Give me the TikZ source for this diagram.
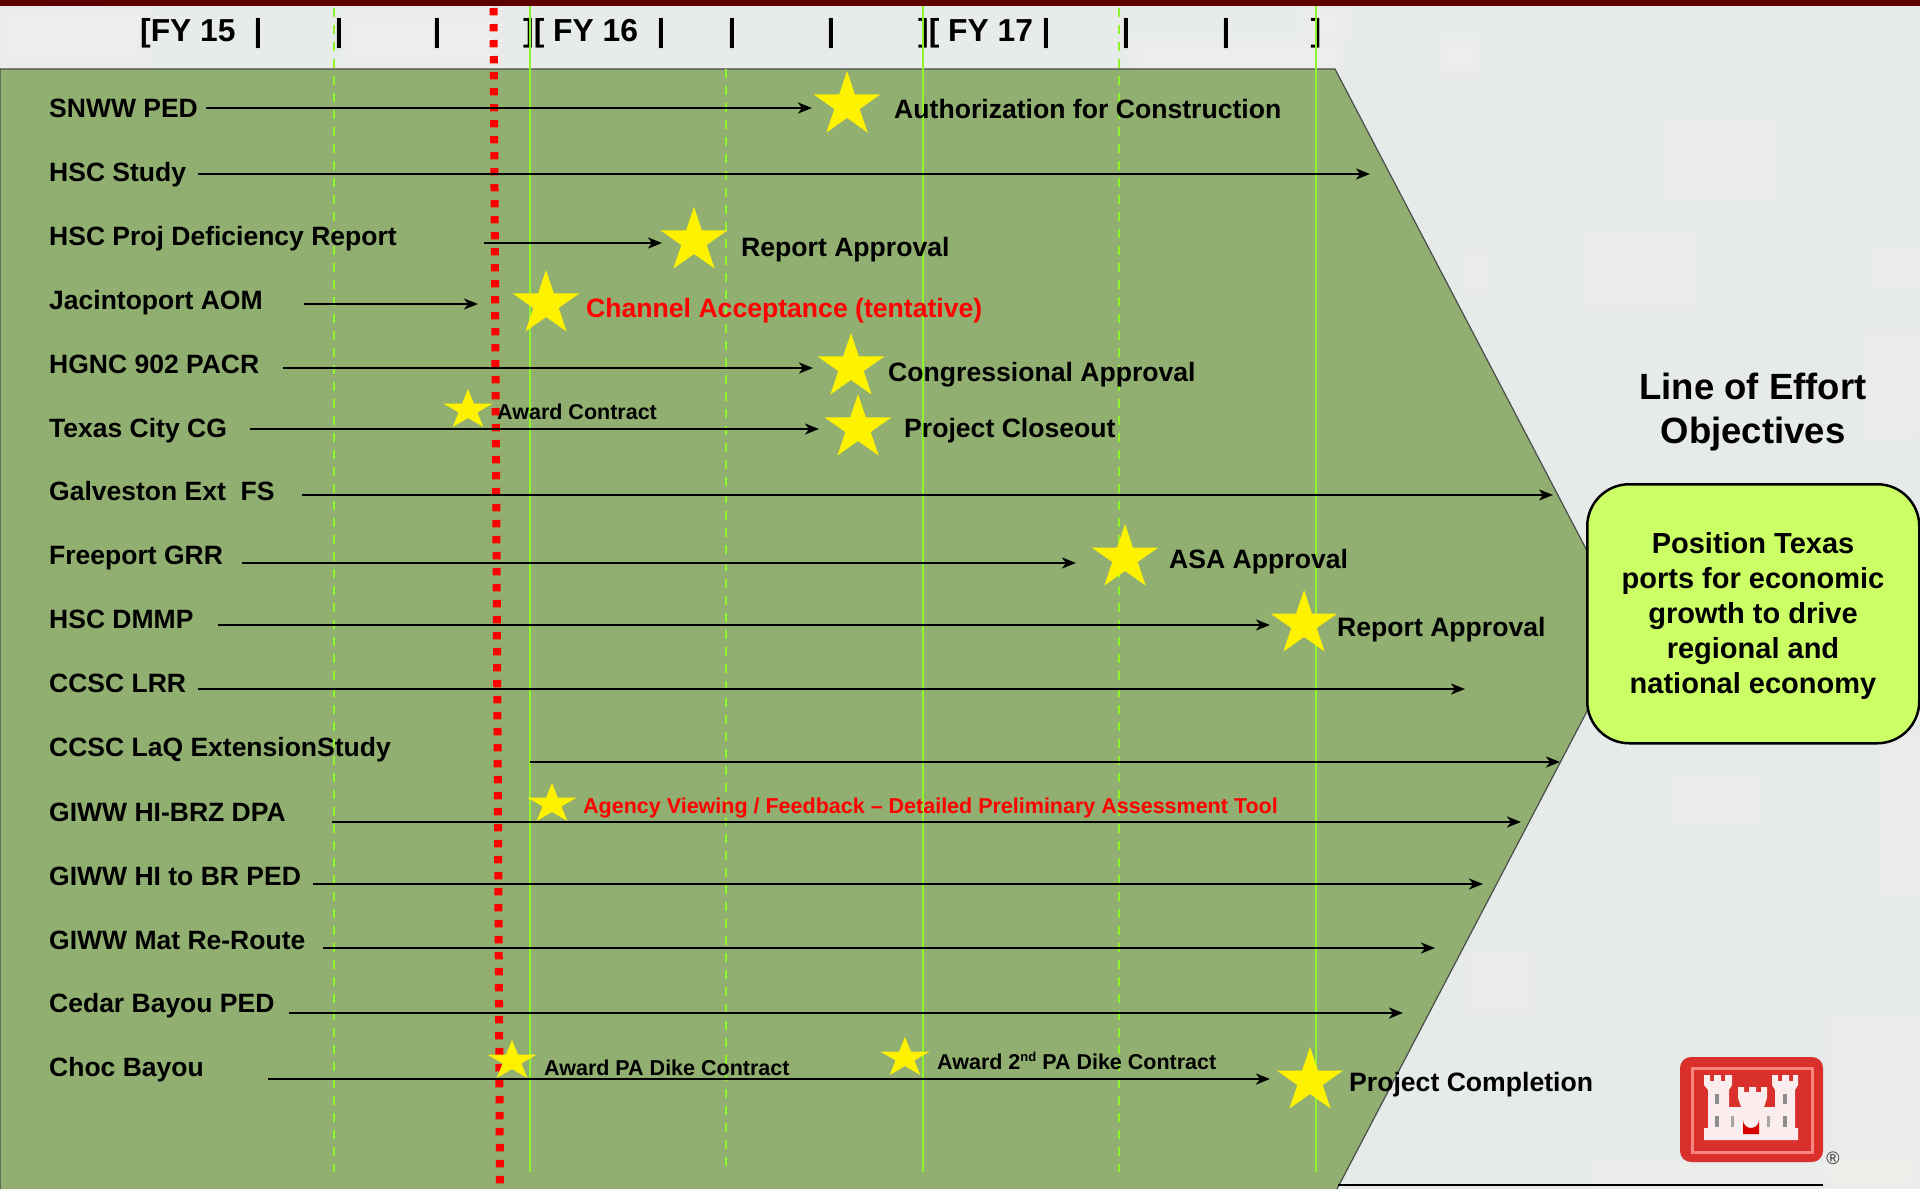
\documentclass[tikz,border=0pt]{standalone}
\usepackage{fontspec}
\setmainfont{Liberation Sans}
\usetikzlibrary{arrows.meta,shapes.geometric}
\definecolor{bgd}{HTML}{E6EAE9}
\definecolor{bgl}{HTML}{F6F6F1}
\definecolor{chev}{HTML}{90AF70}
\definecolor{lime}{HTML}{8FF52A}
\definecolor{boxg}{HTML}{CCFF66}
\definecolor{maroon}{HTML}{5E0000}
\definecolor{lred}{HTML}{D9302C}
\definecolor{lpink}{HTML}{F98480}
\definecolor{castle}{HTML}{FBEDEE}
\newcommand{\softp}[4]{%
  \fill[bgl,opacity=.14] (#1,#2) rectangle (#3,#4);
  \fill[bgl,opacity=.14] (#1+5,#2+5) rectangle (#3-5,#4-5);
  \fill[bgl,opacity=.14] (#1+10,#2+10) rectangle (#3-10,#4-10);}
\tikzset{
  lab/.style={anchor=base west,inner sep=0pt,font=\bfseries\fontsize{26.5}{30}\selectfont},
  note/.style={anchor=base west,inner sep=0pt,font=\bfseries\fontsize{26.6}{30}\selectfont},
  small/.style={anchor=base west,inner sep=0pt,font=\bfseries\fontsize{21.5}{25}\selectfont},
  fy/.style={anchor=base west,inner sep=0pt,font=\bfseries\fontsize{31.8}{34}\selectfont},
  bar/.style={anchor=base,inner sep=0pt,font=\bfseries\fontsize{31.8}{34}\selectfont},
  arr/.style={line width=2.6pt,-{Stealth[length=14pt,width=11pt,inset=4pt]}},
  bigstar/.style={star,star points=5,star point ratio=2.618,fill=yellow,draw=none,inner sep=0pt,minimum size=68pt,transform shape,xscale=1.03},
  smallstar/.style={star,star points=5,star point ratio=2.618,fill=yellow,draw=none,inner sep=0pt,minimum size=42pt,transform shape,xscale=1.24},
  solidg/.style={lime,line width=2.3pt},
  dashg/.style={lime,line width=2.3pt,dash pattern=on 9pt off 8pt},
}
\begin{document}
\begin{tikzpicture}[x=1pt,y=-1pt]
\useasboundingbox (0,0) rectangle (1920,1189);
% background
\fill[bgd] (0,0) rectangle (1920,1189);
\fill[bgl,opacity=.12] (0,0) rectangle (1920,69);
\softp{0}{6}{150}{69}
\softp{340}{10}{500}{69}
\softp{1130}{36}{1345}{72}
\softp{1300}{6}{1350}{40}
\softp{1440}{35}{1480}{78}
\softp{1460}{250}{1490}{295}
\softp{1580}{230}{1700}{310}
\softp{1660}{120}{1780}{200}
\softp{1870}{245}{1920}{290}
\softp{1860}{330}{1920}{440}
\softp{1670}{772}{1762}{826}
\softp{1465}{950}{1535}{1015}
\softp{1826}{1013}{1920}{1189}
\softp{1590}{1155}{1920}{1189}
\softp{1880}{730}{1920}{900}
\fill[maroon] (0,0) rectangle (1920,6);
\fill[black!70] (45,0) arc[start angle=180,end angle=360,x radius=31,y radius=6] -- cycle;
% chevron
\path[fill=chev,draw=black!70,line width=1.2pt] (0,1189) -- (0,69) -- (1335,69) -- (1629,631) -- (1337,1189);
% fiscal year header
\node[fy] (f1) at (140,41) {[FY 15};
\node[bar] (p1) at (258,41) {|};
\node[bar] (p2) at (339,41) {|};
\node[bar] (p3) at (437,41) {|};
\node[fy] (f2) at (523,41) {][ FY 16};
\node[bar] (p4) at (661,41) {|};
\node[bar] (p5) at (732,41) {|};
\node[bar] (p6) at (831,41) {|};
\node[fy] (f3) at (918,41) {][ FY 17};
\node[bar] (p7) at (1046,41) {|};
\node[bar] (p8) at (1126,41) {|};
\node[bar] (p9) at (1226,41) {|};
\node[bar] (p10) at (1316,41) {]};
% timeline lines
\coordinate (t1) at (334,8);   \coordinate (b1) at (334,1172);
\coordinate (t2) at (530,6);   \coordinate (b2) at (530,1172);
\coordinate (t3) at (726,69);  \coordinate (b3) at (726,1172);
\coordinate (t4) at (923,6);   \coordinate (b4) at (923,1172);
\coordinate (t5) at (1119,8);  \coordinate (b5) at (1119,1172);
\coordinate (t6) at (1316,6);  \coordinate (b6) at (1316,1172);
\draw[dashg] (t1) -- (b1);
\draw[solidg] (t2) -- (b2);
\draw[dashg] (t3) -- (b3);
\draw[solidg] (t4) -- (b4);
\draw[dashg] (t5) -- (b5);
\draw[solidg] (t6) -- (b6);
% today line
\coordinate (rt) at (493.5,8);
\coordinate (rb) at (500,1184);
\draw[red,line width=8pt,dash pattern=on 7.3pt off 8.7pt] (rt) -- (rb);
% arrows
\coordinate (a1) at (206,108);   \coordinate (e1) at (812,108);
\coordinate (a2) at (198,174);   \coordinate (e2) at (1370,174);
\coordinate (a3) at (484,243);   \coordinate (e3) at (662,243);
\coordinate (a4) at (304,304);   \coordinate (e4) at (478,304);
\coordinate (a5) at (283,368);   \coordinate (e5) at (813,368);
\coordinate (a6) at (250,429);   \coordinate (e6) at (819,429);
\coordinate (a7) at (302,495);   \coordinate (e7) at (1553,495);
\coordinate (a8) at (242,563);   \coordinate (e8) at (1076,563);
\coordinate (a9) at (218,625);   \coordinate (e9) at (1270,625);
\coordinate (a10) at (198,689);  \coordinate (e10) at (1465,689);
\coordinate (a11) at (530,762);  \coordinate (e11) at (1560,762);
\coordinate (a12) at (332,822);  \coordinate (e12) at (1521,822);
\coordinate (a13) at (313,884);  \coordinate (e13) at (1483,884);
\coordinate (a14) at (323,948);  \coordinate (e14) at (1435,948);
\coordinate (a15) at (289,1013); \coordinate (e15) at (1403,1013);
\coordinate (a16) at (268,1079); \coordinate (e16) at (1270,1079);
\foreach \i in {1,...,16} \draw[arr] (a\i) -- (e\i);
% bottom rule
\coordinate (ra) at (1338,1185); \coordinate (rz) at (1823,1185);
\draw[black,line width=2.4pt] (ra) -- (rz);
% stars
\node[bigstar] (s1) at (847,105) {};
\node[bigstar] (s2) at (694,241) {};
\node[bigstar] (s3) at (546,304) {};
\node[bigstar] (s4) at (851,367) {};
\node[bigstar] (s5) at (858,428) {};
\node[bigstar] (s6) at (1125,558) {};
\node[bigstar] (s7) at (1304,624) {};
\node[bigstar] (s8) at (1310,1081) {};
\node[smallstar] (s9) at (468,410) {};
\node[smallstar] (s10) at (552,804) {};
\node[smallstar] (s11) at (512,1061) {};
\node[smallstar] (s12) at (905,1058) {};
% row labels
\node[lab] (l1) at (49,117) {SNWW PED};
\node[lab] (l2) at (49,181) {HSC Study};
\node[lab] (l3) at (49,245) {HSC Proj Deficiency Report};
\node[lab] (l4) at (49,309) {Jacintoport AOM};
\node[lab] (l5) at (49,373) {HGNC 902 PACR};
\node[lab] (l6) at (49,437) {Texas City CG};
\node[lab] (l7) at (49,500) {Galveston Ext\ \ FS};
\node[lab] (l8) at (49,564) {Freeport GRR};
\node[lab] (l9) at (49,628) {HSC DMMP};
\node[lab] (l10) at (49,692) {CCSC LRR};
\node[lab] (l11) at (49,756) {CCSC LaQ ExtensionStudy};
\node[lab] (l12) at (49,821) {GIWW HI-BRZ DPA};
\node[lab] (l13) at (49,885) {GIWW HI to BR PED};
\node[lab] (l14) at (49,949) {GIWW Mat Re-Route};
\node[lab] (l15) at (49,1012) {Cedar Bayou PED};
\node[lab] (l16) at (49,1076) {Choc Bayou};
% milestone labels
\node[note] (n1) at (894,118) {Authorization for Construction};
\node[note] (n2) at (741,256) {Report Approval};
\node[note,text=red] (n3) at (586,317) {Channel Acceptance (tentative)};
\node[note] (n4) at (888,381) {Congressional Approval};
\node[small] (n5) at (497,419) {Award Contract};
\node[note] (n6) at (904,437) {Project Closeout};
\node[note] (n7) at (1169,568) {ASA Approval};
\node[note] (n8) at (1337,636) {Report Approval};
\node[small,text=red] (n9) at (583,813) {Agency Viewing / Feedback – Detailed Preliminary Assessment Tool};
\node[small] (n10) at (544,1075) {Award PA Dike Contract};
\node[small] (n11) at (937,1069) {Award 2\raisebox{8pt}{\fontsize{13}{13}\selectfont nd} PA Dike Contract};
\node[note] (n12) at (1349,1091) {Project Completion};
% objective
\node[anchor=base,inner sep=0pt,font=\bfseries\fontsize{36.5}{44}\selectfont,align=center] (obj) at (1753,443) {Line of Effort\\Objectives};
\node[draw=black,line width=2.5pt,fill=boxg,rounded corners=42pt,minimum width=332pt,minimum height=259pt,inner sep=0pt,anchor=north west] (box) at (1586,483) {};
\node[anchor=base,inner sep=0pt,font=\bfseries\fontsize{29}{35}\selectfont,align=center] (boxt) at (1753,693) {Position Texas\\ports for economic\\growth to drive\\regional and\\national economy};
% logo
\fill[lred,rounded corners=11pt] (1680,1057) rectangle (1823,1162);
\draw[lpink,line width=3pt] (1692,1068) rectangle (1812,1152);
\fill[castle] (1704,1140) -- (1704,1128) -- (1708,1128) -- (1708,1090) -- (1704,1085) -- (1704,1075) -- (1710,1075) -- (1710,1081) -- (1714,1081) -- (1714,1075) -- (1721,1075) -- (1721,1081) -- (1725,1081) -- (1725,1075) -- (1732,1075) -- (1732,1085) -- (1729,1090) -- (1729,1107) -- (1741,1107) -- (1738,1098) -- (1738,1087) -- (1744,1087) -- (1744,1092) -- (1749,1092) -- (1749,1087) -- (1756,1087) -- (1756,1092) -- (1761,1092) -- (1761,1087) -- (1767,1087) -- (1767,1098) -- (1764,1107) -- (1775,1107) -- (1775,1090) -- (1772,1085) -- (1772,1075) -- (1778,1075) -- (1778,1081) -- (1782,1081) -- (1782,1075) -- (1789,1075) -- (1789,1081) -- (1793,1081) -- (1793,1075) -- (1798,1075) -- (1798,1085) -- (1795,1090) -- (1795,1128) -- (1798,1128) -- (1798,1140) -- cycle;
\fill[red!85!black] (1743,1134) -- (1743,1120) arc[start angle=180,end angle=0,radius=8] -- (1759,1134) -- cycle;
\foreach \wx in {1717,1785} {\fill[black!45] (\wx-2,1094) rectangle (\wx+2,1104); \fill[black!45] (\wx-2,1116) rectangle (\wx+2,1127);}
\foreach \wx in {1732,1768} {\fill[black!35] (\wx-1.5,1116) rectangle (\wx+1.5,1127);}
\node[inner sep=0pt,font=\fontsize{18}{20}\selectfont,text=black!80] (reg) at (1833,1158) {\textregistered};
\end{tikzpicture}
\end{document}
